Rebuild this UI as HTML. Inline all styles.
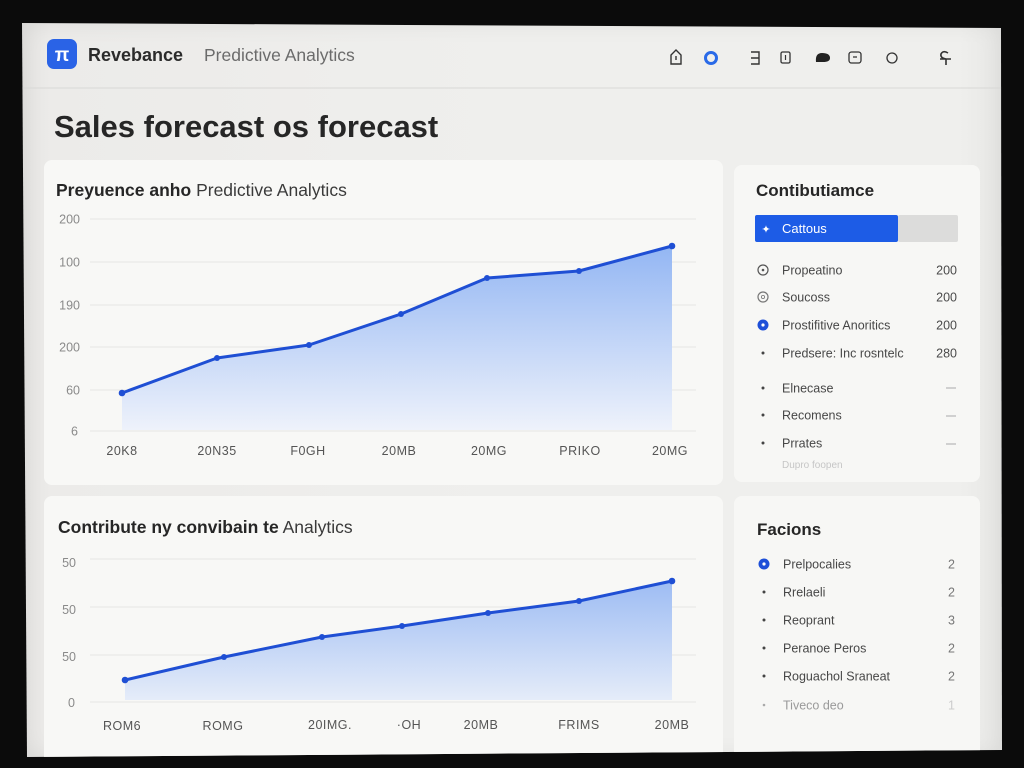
<!DOCTYPE html>
<html><head><meta charset="utf-8">
<style>
html,body{margin:0;padding:0;background:#0b0b0b;width:1024px;height:768px;overflow:hidden;}
#scr{position:absolute;left:0;top:0;width:1024px;height:768px;
clip-path:polygon(22px 23px,1001px 28px,1002px 750px,27px 757px);
background:linear-gradient(90deg,#dedddb 0px,#ecebe9 50px,#efefed 500px,#efefed 960px,#e6e6e4 1002px);}
#vig{position:absolute;left:22px;top:23px;width:980px;height:734px;box-shadow:inset 0 0 24px rgba(0,0,0,0.07);}
svg{position:absolute;left:0;top:0;}
text{font-family:"Liberation Sans",Arial,sans-serif;}
</style></head><body>
<div id="scr"><div id="vig"></div></div>
<svg width="1024" height="768" viewBox="0 0 1024 768">
<defs>
<linearGradient id="g1" x1="0" y1="0" x2="0" y2="1">
<stop offset="0" stop-color="#93b6f3"/><stop offset="1" stop-color="#eef2fb"/></linearGradient>
<linearGradient id="g2" x1="0" y1="0" x2="0" y2="1">
<stop offset="0" stop-color="#9dbcf3"/><stop offset="1" stop-color="#e5ecf9"/></linearGradient>
<clipPath id="sc"><polygon points="22,23 1001,28 1002,750 27,757"/></clipPath>
</defs>
<g clip-path="url(#sc)">
<!-- header -->
<line x1="22" y1="88" x2="1001" y2="88" stroke="#d8d8d6" stroke-width="1"/>
<rect x="47" y="39" width="30" height="30" rx="7" fill="#2a63e6"/>
<text x="62" y="61" font-size="19" font-weight="bold" fill="#fff" text-anchor="middle">π</text>
<text x="88" y="61" font-size="18" font-weight="bold" fill="#2b2b2b">Revebance</text>
<text x="204" y="61" font-size="17.5" fill="#6b6b6b">Predictive Analytics</text>
<!-- header icons -->
<path d="M671,64 L671,55 L676,50 L681,55 L681,64 Z" fill="none" stroke="#333" stroke-width="1.4"/>
<line x1="676" y1="56" x2="676" y2="60" stroke="#333" stroke-width="1.4"/>
<circle cx="711" cy="58" r="5.5" fill="none" stroke="#2a6ae8" stroke-width="3"/>
<path d="M751,52 L759,52 L759,64 L751,64 M751,58 L759,58" fill="none" stroke="#333" stroke-width="1.4"/>
<rect x="781" y="52" width="9" height="11" rx="1.5" fill="none" stroke="#333" stroke-width="1.3"/>
<line x1="785.5" y1="55" x2="785.5" y2="60" stroke="#333" stroke-width="1.2"/>
<path d="M816,62 Q815,53 822,53 Q830,53 830,58 Q830,62 823,62 Z" fill="#222"/>
<rect x="849" y="52" width="12" height="11" rx="2.5" fill="none" stroke="#333" stroke-width="1.3"/>
<line x1="853" y1="57" x2="857" y2="57" stroke="#333" stroke-width="1.2"/>
<circle cx="892" cy="58" r="5" fill="none" stroke="#333" stroke-width="1.3"/>
<path d="M946,59 Q940,58 941,54 Q943,50 948,53 M940,59 L951,59 M946,59 L946,65" fill="none" stroke="#333" stroke-width="1.6"/>
<!-- title -->
<text x="54" y="137" font-size="31" font-weight="bold" fill="#262626">Sales forecast os forecast</text>

<!-- cards -->
<rect x="44" y="160" width="679" height="325" rx="8" fill="#f8f8f6"/>
<rect x="734" y="165" width="246" height="317" rx="8" fill="#f7f7f5"/>
<rect x="44" y="496" width="679" height="275" rx="8" fill="#f8f8f6"/>
<rect x="734" y="496" width="246" height="275" rx="8" fill="#f7f7f5"/>

<!-- chart 1 -->
<text x="56" y="196" font-size="17.5" fill="#262626"><tspan font-weight="bold">Preyuence anho</tspan><tspan fill="#3a3a3a"> Predictive Analytics</tspan></text>
<g stroke="#e6e6e4" stroke-width="1">
<line x1="90" y1="219" x2="696" y2="219"/><line x1="90" y1="262" x2="696" y2="262"/>
<line x1="90" y1="305" x2="696" y2="305"/><line x1="90" y1="347" x2="696" y2="347"/>
<line x1="90" y1="390" x2="696" y2="390"/><line x1="90" y1="431" x2="696" y2="431"/>
</g>
<g font-size="12.5" fill="#8a8a8a" text-anchor="end">
<text x="80" y="223.5">200</text><text x="80" y="266.5">100</text><text x="80" y="309.5">190</text>
<text x="80" y="351.5">200</text><text x="80" y="394.5">60</text><text x="78" y="435.5">6</text>
</g>
<path d="M122,393 L217,358 L309,345 L401,314 L487,278 L579,271 L672,246 L672,430 L122,430 Z" fill="url(#g1)"/>
<polyline points="122,393 217,358 309,345 401,314 487,278 579,271 672,246" fill="none" stroke="#1f4fd4" stroke-width="3" stroke-linejoin="round"/>
<g fill="#1f4fd4">
<circle cx="122" cy="393" r="3.3"/><circle cx="217" cy="358" r="3"/><circle cx="309" cy="345" r="3"/>
<circle cx="401" cy="314" r="3"/><circle cx="487" cy="278" r="3"/><circle cx="579" cy="271" r="3"/><circle cx="672" cy="246" r="3.3"/>
</g>
<g font-size="12.5" fill="#555" text-anchor="middle" letter-spacing="0.5">
<text x="122" y="455">20K8</text><text x="217" y="455">20N35</text><text x="308" y="455">F0GH</text>
<text x="399" y="455">20MB</text><text x="489" y="455">20MG</text><text x="580" y="455">PRIKO</text><text x="670" y="455">20MG</text>
</g>

<!-- chart 2 -->
<text x="58" y="533" font-size="17.5" fill="#262626"><tspan font-weight="bold">Contribute ny convibain te</tspan><tspan fill="#3a3a3a"> Analytics</tspan></text>
<g stroke="#e6e6e4" stroke-width="1">
<line x1="90" y1="559" x2="696" y2="559"/><line x1="90" y1="607" x2="696" y2="607"/>
<line x1="90" y1="655" x2="696" y2="655"/><line x1="90" y1="702" x2="696" y2="702"/>
</g>
<g font-size="12.5" fill="#8a8a8a" text-anchor="end">
<text x="76" y="567">50</text><text x="76" y="614">50</text><text x="76" y="661">50</text><text x="75" y="707">0</text>
</g>
<path d="M125,680 L224,657 L322,637 L402,626 L488,613 L579,601 L672,581 L672,700 L125,700 Z" fill="url(#g2)"/>
<polyline points="125,680 224,657 322,637 402,626 488,613 579,601 672,581" fill="none" stroke="#1f4fd4" stroke-width="3" stroke-linejoin="round"/>
<g fill="#1f4fd4">
<circle cx="125" cy="680" r="3.3"/><circle cx="224" cy="657" r="3"/><circle cx="322" cy="637" r="3"/>
<circle cx="402" cy="626" r="3"/><circle cx="488" cy="613" r="3"/><circle cx="579" cy="601" r="3"/><circle cx="672" cy="581" r="3.3"/>
</g>
<g font-size="12.5" fill="#555" text-anchor="middle" letter-spacing="0.5">
<text x="122" y="730">ROM6</text><text x="223" y="730">ROMG</text><text x="330" y="729">20IMG.</text>
<text x="409" y="729">·OH</text><text x="481" y="729">20MB</text><text x="579" y="729">FRIMS</text><text x="672" y="729">20MB</text>
</g>

<!-- right card 1 -->
<text x="756" y="196" font-size="17" font-weight="bold" fill="#262626">Contibutiamce</text>
<rect x="898" y="215" width="60" height="27" rx="2" fill="#dcdcdb"/>
<rect x="755" y="215" width="143" height="27" rx="2" fill="#1d5ce6"/>
<text x="766" y="233" font-size="11" fill="#fff" text-anchor="middle">✦</text>
<text x="782" y="233" font-size="13" fill="#fff">Cattous</text>
<circle cx="763" cy="270" r="5" fill="none" stroke="#555" stroke-width="1.2"/><circle cx="763" cy="270" r="1.3" fill="#555"/>
<circle cx="763" cy="297" r="5" fill="none" stroke="#777" stroke-width="1.2"/><circle cx="763" cy="297" r="1.6" fill="none" stroke="#777" stroke-width="0.8"/>
<circle cx="763" cy="325" r="5.5" fill="#1d4fd8"/><circle cx="763" cy="325" r="1.6" fill="#fff"/>
<g fill="#444"><circle cx="763" cy="353" r="1.5"/><circle cx="763" cy="388" r="1.5"/><circle cx="763" cy="415" r="1.5"/><circle cx="763" cy="443" r="1.5"/></g>
<g font-size="12.5" fill="#474747">
<text x="782" y="274.5">Propeatino</text><text x="782" y="301.5">Soucoss</text>
<text x="782" y="329.5">Prostifitive Anoritics</text><text x="782" y="357.5">Predsere: Inc rosntelc</text>
<text x="782" y="392.5">Elnecase</text><text x="782" y="419.5">Recomens</text><text x="782" y="447.5">Prrates</text>
<text x="782" y="468" font-size="10" fill="#c6c6c6">Dupro foopen</text>
</g>
<g font-size="12.5" fill="#4a4a4a" text-anchor="end">
<text x="957" y="274.5">200</text><text x="957" y="301.5">200</text><text x="957" y="329.5">200</text><text x="957" y="357.5">280</text>
</g>
<g stroke="#aaa" stroke-width="1"><line x1="946" y1="388" x2="956" y2="388"/><line x1="946" y1="416" x2="956" y2="416"/><line x1="946" y1="444" x2="956" y2="444"/></g>

<!-- right card 2 -->
<text x="757" y="535" font-size="17" font-weight="bold" fill="#262626">Facions</text>
<circle cx="764" cy="564" r="5.5" fill="#1d4fd8"/><circle cx="764" cy="564" r="1.6" fill="#fff"/>
<g fill="#444"><circle cx="764" cy="592" r="1.5"/><circle cx="764" cy="620" r="1.5"/><circle cx="764" cy="648" r="1.5"/><circle cx="764" cy="676" r="1.5"/><circle cx="764" cy="705" r="1.3" fill="#aaa"/></g>
<g font-size="12.5" fill="#474747">
<text x="783" y="568.5">Prelpocalies</text><text x="783" y="596.5">Rrelaeli</text><text x="783" y="624.5">Reoprant</text>
<text x="783" y="652.5">Peranoe Peros</text><text x="783" y="680.5">Roguachol Sraneat</text><text x="783" y="709.5" fill="#9a9a9a">Tiveco deo</text>
</g>
<g font-size="12.5" fill="#777" text-anchor="end">
<text x="955" y="568.5">2</text><text x="955" y="596.5">2</text><text x="955" y="624.5">3</text>
<text x="955" y="652.5">2</text><text x="955" y="680.5">2</text><text x="955" y="709.5" fill="#ccc">1</text>
</g>
</g>
</svg>
</body></html>
